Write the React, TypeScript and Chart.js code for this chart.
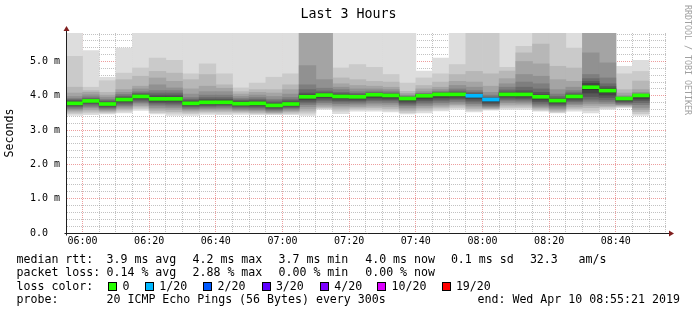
import React, { useEffect, useRef } from "react";
import { Chart, registerables } from "chart.js";

Chart.register(...registerables);

const FONT = "'DejaVu Sans Mono', monospace";

// ---- data ----
const barStarts = ["05:55","06:00","06:05","06:10","06:15","06:20","06:25","06:30","06:35","06:40","06:45","06:50","06:55","07:00","07:05","07:10","07:15","07:20","07:25","07:30","07:35","07:40","07:45","07:50","07:55","08:00","08:05","08:10","08:15","08:20","08:25","08:30","08:35","08:40","08:45"];

const medianMs = [3.78,3.85,3.76,3.89,3.98,3.91,3.91,3.78,3.81,3.81,3.77,3.78,3.72,3.76,3.97,4.02,3.98,3.97,4.03,4.01,3.92,4.00,4.04,4.04,4.00,3.89,4.04,4.04,3.97,3.86,3.98,4.25,4.15,3.92,4.01];

const lossCount = [0,0,0,0,0,0,0,0,0,0,0,0,0,0,0,0,0,0,0,0,0,0,0,0,1,1,0,0,0,0,0,0,0,0,0];

// 20 sorted ping round-trip times per 5-minute step (ms)
const pingsMs = [
  [3.43,3.48,3.52,3.56,3.60,3.63,3.67,3.70,3.73,3.76,3.80,3.83,3.86,3.89,3.92,3.98,4.08,4.25,5.15,6.60],
  [3.45,3.50,3.55,3.60,3.65,3.69,3.73,3.77,3.80,3.83,3.86,3.88,3.90,3.93,3.97,4.03,4.10,4.15,4.25,5.32],
  [3.47,3.50,3.53,3.56,3.59,3.62,3.65,3.68,3.71,3.74,3.78,3.80,3.83,3.86,3.90,3.96,4.02,4.10,4.44,4.54],
  [3.50,3.55,3.59,3.63,3.67,3.71,3.75,3.79,3.83,3.87,3.91,3.93,3.96,3.99,4.04,4.10,4.18,4.47,4.66,5.39],
  [3.57,3.62,3.67,3.71,3.76,3.80,3.84,3.88,3.92,3.95,4.00,4.02,4.05,4.08,4.12,4.20,4.28,4.57,4.81,6.80],
  [3.47,3.51,3.56,3.61,3.66,3.72,3.76,3.80,3.84,3.88,3.93,3.97,4.02,4.08,4.15,4.32,4.52,4.71,5.10,6.50],
  [3.43,3.49,3.54,3.60,3.65,3.70,3.75,3.79,3.84,3.88,3.93,3.97,4.02,4.08,4.15,4.23,4.42,4.66,5.03,6.40],
  [3.43,3.48,3.52,3.56,3.60,3.63,3.67,3.70,3.73,3.76,3.80,3.83,3.86,3.90,3.95,4.05,4.20,4.47,4.64,6.70],
  [3.46,3.50,3.54,3.58,3.62,3.65,3.69,3.72,3.76,3.79,3.83,3.86,3.90,3.95,4.02,4.12,4.28,4.62,4.93,6.60],
  [3.45,3.49,3.54,3.58,3.62,3.66,3.70,3.73,3.76,3.79,3.83,3.86,3.90,3.95,4.02,4.12,4.22,4.32,4.64,6.70],
  [3.46,3.50,3.53,3.56,3.59,3.62,3.66,3.69,3.72,3.75,3.79,3.82,3.85,3.88,3.92,3.98,4.05,4.12,4.23,6.50],
  [3.45,3.48,3.51,3.55,3.58,3.61,3.65,3.69,3.72,3.76,3.80,3.83,3.86,3.90,3.95,4.02,4.10,4.18,4.37,6.50],
  [3.45,3.47,3.49,3.51,3.54,3.57,3.60,3.63,3.67,3.70,3.74,3.77,3.80,3.85,3.90,3.98,4.08,4.18,4.54,6.60],
  [3.45,3.48,3.52,3.55,3.58,3.62,3.65,3.68,3.71,3.74,3.78,3.81,3.85,3.89,3.95,4.05,4.18,4.32,4.64,6.60],
  [3.43,3.49,3.55,3.62,3.68,3.74,3.79,3.84,3.89,3.94,3.99,4.03,4.08,4.18,4.32,4.88,6.20,7.00,7.80,8.50],
  [3.60,3.63,3.66,3.70,3.75,3.80,3.85,3.90,3.95,3.99,4.04,4.06,4.09,4.14,4.22,4.47,6.00,6.50,7.20,8.00],
  [3.48,3.55,3.61,3.67,3.72,3.77,3.82,3.86,3.91,3.95,4.00,4.03,4.06,4.10,4.18,4.25,4.35,4.52,4.81,6.60],
  [3.55,3.60,3.64,3.68,3.73,3.78,3.82,3.86,3.90,3.94,3.99,4.01,4.03,4.07,4.12,4.20,4.30,4.47,4.91,6.50],
  [3.55,3.60,3.65,3.70,3.76,3.81,3.86,3.90,3.95,3.99,4.04,4.05,4.07,4.10,4.14,4.20,4.28,4.42,4.83,6.60],
  [3.53,3.58,3.63,3.69,3.75,3.80,3.85,3.89,3.93,3.97,4.02,4.03,4.05,4.08,4.12,4.18,4.25,4.40,4.62,6.70],
  [3.47,3.51,3.56,3.61,3.66,3.71,3.75,3.79,3.84,3.88,3.93,3.94,3.95,3.97,3.99,4.02,4.07,4.13,4.37,6.80],
  [3.50,3.56,3.61,3.66,3.71,3.76,3.81,3.86,3.91,3.96,4.01,4.02,4.03,4.05,4.07,4.12,4.20,4.30,4.52,4.72],
  [3.56,3.61,3.66,3.70,3.75,3.80,3.85,3.90,3.95,4.00,4.05,4.06,4.08,4.10,4.13,4.18,4.25,4.40,4.64,5.10],
  [3.60,3.65,3.70,3.74,3.78,3.83,3.88,3.92,3.96,4.00,4.05,4.07,4.10,4.14,4.20,4.30,4.42,4.62,4.91,6.60],
  [3.53,3.57,3.62,3.67,3.72,3.77,3.82,3.87,3.92,3.96,4.01,4.03,4.06,4.10,4.15,4.25,4.40,4.71,6.60,7.50],
  [3.58,3.60,3.62,3.64,3.67,3.70,3.73,3.77,3.81,3.85,3.90,3.92,3.94,3.97,4.02,4.10,4.28,4.64,6.50,7.50],
  [3.60,3.65,3.70,3.75,3.80,3.85,3.89,3.93,3.97,4.01,4.06,4.08,4.11,4.17,4.25,4.35,4.50,4.72,4.83,6.70],
  [3.60,3.65,3.70,3.75,3.79,3.84,3.88,3.92,3.96,4.01,4.06,4.09,4.15,4.25,4.40,4.62,5.00,5.25,5.44,6.80],
  [3.55,3.58,3.61,3.65,3.69,3.73,3.78,3.83,3.88,3.93,3.99,4.03,4.10,4.20,4.35,4.57,4.93,5.51,6.50,7.50],
  [3.50,3.52,3.55,3.59,3.63,3.67,3.71,3.75,3.79,3.83,3.88,3.90,3.93,3.98,4.05,4.18,4.47,4.86,6.50,7.50],
  [3.55,3.60,3.64,3.69,3.74,3.78,3.83,3.87,3.91,3.95,4.00,4.02,4.05,4.09,4.15,4.25,4.42,4.81,5.39,6.70],
  [3.50,3.57,3.65,3.72,3.78,3.84,3.90,3.98,4.08,4.18,4.30,4.36,4.42,4.50,4.62,5.25,6.30,7.00,7.80,8.50],
  [3.60,3.64,3.68,3.72,3.77,3.82,3.88,3.95,4.02,4.10,4.18,4.22,4.27,4.35,4.52,4.96,6.20,7.00,7.80,8.50],
  [3.65,3.68,3.70,3.72,3.74,3.76,3.79,3.82,3.85,3.88,3.93,3.93,3.94,3.95,3.97,4.00,4.08,4.18,4.64,4.86],
  [3.43,3.48,3.54,3.60,3.66,3.74,3.80,3.86,3.91,3.97,4.02,4.02,4.03,4.04,4.06,4.10,4.18,4.43,4.71,5.03],
];

const smokeShades = ["#dddddd","#cacaca","#b7b7b7","#a4a4a4","#919191","#7e7e7e","#6b6b6b","#585858","#454545","#323232"];

const lossLegendLabels = ["0","1/20","2/20","3/20","4/20","10/20","19/20"];
const lossLegendColors = ["#26ff00","#00b8ff","#0059ff","#5e00ff","#7e00ff","#dd00ff","#ff0000"];
const lossLegendCounts = [0,1,2,3,4,10,19];

const xLabelMinutes = [360,380,400,420,440,460,480,500,520];
const xLabelTexts = ["06:00","06:20","06:40","07:00","07:20","07:40","08:00","08:20","08:40"];
const yLabelValues = [0,1,2,3,4,5];
const yLabelTexts = ["0.0  ","1.0 m","2.0 m","3.0 m","4.0 m","5.0 m"];

const xStartMin = 355.35; // 05:55:21
const xEndMin = 535.35;   // 08:55:21
const yMaxMs = 5.83;

const titleText = "Last 3 Hours";
const rttStats = ["3.9 ms avg","4.2 ms max","3.7 ms min","4.0 ms now","0.1 ms sd","32.3","am/s"];
const lossStats = ["0.14 % avg","2.88 % max","0.00 % min","0.00 % now"];
const probeText = "20 ICMP Echo Pings (56 Bytes) every 300s";
const endText = "end: Wed Apr 10 08:55:21 2019";
const creditText = "RRDTOOL / TOBI OETIKER";

// ---- layout / style ----
const W = 697, H = 315;
const GRID_MINOR = "rgba(143,143,143,0.55)";
const GRID_MAJOR = "rgba(222,79,79,0.55)";
const AXIS = "#1f1f1f";
const ARROW = "#801f1f";
const rttX = [107.3,193.3,279.3,366,451.7,530.7,579.3];
const lossX = [107.3,193.3,279.3,366];
const boxX = [108.3,145,203.3,261.7,320,377.3,441.7];
const boxLabelX = [123.3,160,218.3,276.7,335,392.3,456.7];

const toMin = (s: string) => { const [h, m] = s.split(":").map(Number); return h * 60 + m; };
const halfMedian = 0.044;

const axisPlugin = {
  id: "rrdAxes",
  afterDraw(chart: any) {
    const { ctx, chartArea: a } = chart;
    const xl = Math.round(a.left) - 0.5;
    const yb = Math.round(a.bottom) + 0.5;
    ctx.save();
    ctx.strokeStyle = AXIS;
    ctx.lineWidth = 1;
    ctx.setLineDash([]);
    ctx.beginPath();
    ctx.moveTo(xl, yb + 2);
    ctx.lineTo(xl, a.top - 3);
    ctx.moveTo(xl - 2, yb);
    ctx.lineTo(a.right + 3, yb);
    ctx.stroke();
    ctx.fillStyle = ARROW;
    ctx.beginPath();
    ctx.moveTo(xl, a.top - 7);
    ctx.lineTo(xl - 3, a.top - 2);
    ctx.lineTo(xl + 3, a.top - 2);
    ctx.closePath();
    ctx.fill();
    ctx.beginPath();
    ctx.moveTo(a.right + 7, yb);
    ctx.lineTo(a.right + 2, yb - 3);
    ctx.lineTo(a.right + 2, yb + 3);
    ctx.closePath();
    ctx.fill();
    ctx.restore();
  },
};

export default function App() {
  const ref = useRef<HTMLCanvasElement>(null);

  useEffect(() => {
    const canvas = ref.current;
    if (!canvas) return;
    const centers = barStarts.map((s) => toMin(s) + 2.5);
    const barCommon = { borderWidth: 0, grouped: false, barPercentage: 1, categoryPercentage: 1 };
    const smokeSets = smokeShades.map((shade, k) => ({
      type: "bar" as const,
      label: `smoke${k + 1}`,
      data: centers.map((x, i) => ({ x, y: [pingsMs[i][k], pingsMs[i][19 - k]] })),
      backgroundColor: shade,
      order: 10 - k,
      ...barCommon,
    }));
    const medianSet = {
      type: "bar" as const,
      label: "median rtt",
      data: centers.map((x, i) => ({ x, y: [medianMs[i] - halfMedian, medianMs[i] + halfMedian] })),
      backgroundColor: lossCount.map((c) => lossLegendColors[lossLegendCounts.indexOf(c)]),
      order: 0,
      ...barCommon,
    };
    const xGrid: number[] = [];
    for (let m = 360; m <= 535; m += 5) xGrid.push(m);
    const yGrid: number[] = [];
    for (let i = 1; i <= 29; i++) yGrid.push(Math.round(i * 2) / 10);
    yGrid.unshift(0);

    const chart = new Chart(canvas, {
      type: "bar",
      data: { datasets: [medianSet, ...smokeSets] as any },
      plugins: [axisPlugin],
      options: {
        responsive: false,
        animation: false,
        events: [],
        layout: { padding: { top: 33, right: 30, left: 0, bottom: 0 } },
        plugins: { legend: { display: false }, title: { display: false }, tooltip: { enabled: false } },
        scales: {
          x: {
            type: "linear",
            min: xStartMin,
            max: xEndMin,
            offset: false,
            z: 1,
            afterBuildTicks: (s: any) => { s.ticks = xGrid.map((v) => ({ value: v })); },
            afterFit: (s: any) => { s.height = H - 233; },
            ticks: {
              autoSkip: false,
              maxRotation: 0,
              minRotation: 0,
              padding: 2,
              color: "#000",
              font: { family: FONT, size: 10 },
              callback: (v: any) => { const i = xLabelMinutes.indexOf(Number(v)); return i >= 0 ? xLabelTexts[i] : ""; },
            },
            grid: {
              offset: false,
              drawTicks: false,
              lineWidth: 1,
              color: (c: any) => (c.tick && c.tick.value % 20 === 0 ? GRID_MAJOR : GRID_MINOR),
            },
            border: { display: false, dash: [1, 1] },
          },
          y: {
            type: "linear",
            min: 0,
            max: yMaxMs,
            z: 1,
            afterBuildTicks: (s: any) => { s.ticks = yGrid.map((v) => ({ value: v })); },
            afterFit: (s: any) => { s.width = 67; },
            ticks: {
              autoSkip: false,
              padding: 7,
              color: "#000",
              font: { family: FONT, size: 10 },
              callback: (v: any) => {
                const i = yLabelValues.findIndex((y) => Math.abs(y - Number(v)) < 1e-6);
                return i >= 0 ? yLabelTexts[i] : "";
              },
            },
            grid: {
              drawTicks: false,
              lineWidth: 1,
              color: (c: any) => {
                const v = c.tick ? c.tick.value : 0;
                return Math.abs(v - Math.round(v)) < 1e-6 ? GRID_MAJOR : GRID_MINOR;
              },
            },
            border: { display: false, dash: [1, 1] },
            title: {
              display: true,
              text: "Seconds",
              color: "#000",
              font: { family: FONT, size: 11.6 },
              padding: { top: 3, bottom: 0 },
            },
          },
        },
      } as any,
    });
    return () => chart.destroy();
  }, []);

  const txt = (left: number, top: number, s: string, key?: string) => (
    <div
      key={key}
      style={{ position: "absolute", left, top, fontFamily: FONT, fontSize: 11.6, lineHeight: "11.6px", whiteSpace: "pre", color: "#000" }}
    >
      {s}
    </div>
  );

  const lineTop = [253.6, 267.1, 280.6, 294.1];

  return (
    <div style={{ position: "absolute", left: 0, top: 0, width: W, height: H, background: "#fff", overflow: "hidden" }}>
      <canvas ref={ref} width={W} height={H} style={{ position: "absolute", left: 0, top: 0, width: W, height: H }} />
      <div
        style={{ position: "absolute", left: 0, top: 6.8, width: W, textAlign: "center", fontFamily: FONT, fontSize: 13.3, lineHeight: "13.3px", color: "#000", whiteSpace: "pre" }}
      >
        {titleText}
      </div>
      <div
        style={{ position: "absolute", left: 684, top: 5, writingMode: "vertical-rl", fontFamily: FONT, fontSize: 8.3, lineHeight: "8.3px", color: "#a0a0a0", whiteSpace: "pre" }}
      >
        {creditText}
      </div>
      {txt(16.5, lineTop[0], "median rtt:")}
      {rttStats.map((s, i) => txt(rttX[i] - 0.8, lineTop[0], s, "r" + i))}
      {txt(16.5, lineTop[1], "packet loss:")}
      {lossStats.map((s, i) => txt(lossX[i] - 0.8, lineTop[1], s, "l" + i))}
      {txt(16.5, lineTop[2], "loss color:")}
      {lossLegendLabels.map((s, i) => (
        <React.Fragment key={"b" + i}>
          <div
            style={{ position: "absolute", left: boxX[i], top: 282, width: 7, height: 7, border: "1px solid #000", background: lossLegendColors[i] }}
          />
          {txt(boxLabelX[i] - 0.8, lineTop[2], s)}
        </React.Fragment>
      ))}
      {txt(16.5, lineTop[3], "probe:")}
      {txt(106.5, lineTop[3], probeText)}
      {txt(477.5, lineTop[3], endText)}
    </div>
  );
}
